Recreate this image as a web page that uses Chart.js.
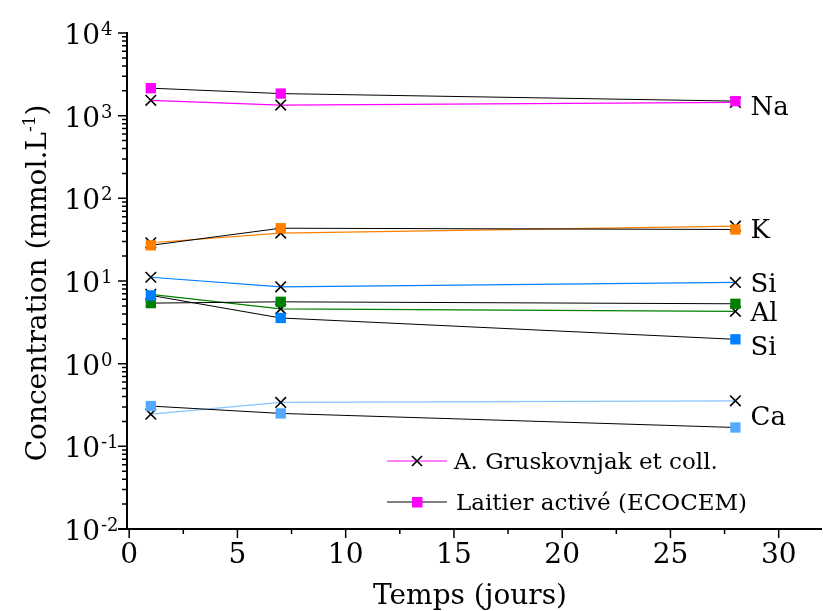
<!DOCTYPE html>
<html>
<head>
<meta charset="utf-8">
<script src="https://cdn.jsdelivr.net/npm/chart.js@4.4.0/dist/chart.umd.min.js"></script>
<style>
  html, body { margin: 0; padding: 0; background: #fff; }
  #wrap { width: 823px; height: 611px; }
</style>
</head>
<body>
<div id="wrap"><canvas id="chart"></canvas></div>
<script>
// time points (days)
const days = [1, 7, 28];

// A. Gruskovnjak et coll. (x markers, coloured lines)
const grusNa = [1535, 1345, 1445];
const grusK = [29, 38, 46];
const grusSi = [11.1, 8.5, 9.6];
const grusAl = [6.9, 4.6, 4.3];
const grusCa = [0.245, 0.34, 0.355];

// Laitier activé (ECOCEM) (coloured squares, black lines)
const ecoNa = [2150, 1850, 1500];
const ecoK = [27, 43.5, 42];
const ecoSi = [6.7, 3.57, 1.97];
const ecoAl = [5.4, 5.6, 5.3];
const ecoCa = [0.307, 0.25, 0.169];

// ion labels at right of the curves
const ionLabels = ['Na', 'K', 'Si', 'Al', 'Si', 'Ca'];
const ionLabelValues = [1340, 43.6, 9.67, 4.22, 1.67, 0.237];

const xTickValues = [0, 5, 10, 15, 20, 25, 30];
const xMinorValues = [2.5, 7.5, 12.5, 17.5, 22.5, 27.5];
const yExponents = [-2, -1, 0, 1, 2, 3, 4];

const legendLabels = ['A. Gruskovnjak et coll.', 'Laitier activé (ECOCEM)'];

const FONT = "'DejaVu Serif', serif";

const pts = vals => vals.map((v, i) => ({ x: days[i], y: v }));

const ecoSet = (vals, color) => ({
    data: pts(vals),
    borderColor: '#000',
    borderWidth: 1,
    pointStyle: 'rect',
    pointRadius: 7.3,
    pointBackgroundColor: color,
    pointBorderColor: color,
    pointBorderWidth: 0,
    tension: 0
});
const grusSet = (vals, color) => ({
    data: pts(vals),
    borderColor: color,
    borderWidth: 1.2,
    pointStyle: 'crossRot',
    pointRadius: 7.5,
    pointBorderColor: '#000',
    pointBorderWidth: 1.6,
    tension: 0
});

const decor = {
    id: 'decor',
    afterDraw(chart) {
        const { ctx, chartArea: a, scales: { x, y } } = chart;
        ctx.save();
        // axes
        ctx.strokeStyle = '#000';
        ctx.lineWidth = 2;
        ctx.beginPath();
        ctx.moveTo(a.left, a.top - 1);
        ctx.lineTo(a.left, a.bottom);
        ctx.moveTo(a.left - 9, a.bottom);
        ctx.lineTo(a.right, a.bottom);
        ctx.stroke();

        // y ticks
        ctx.lineWidth = 1.5;
        ctx.beginPath();
        yExponents.forEach((e, i) => {
            const py = y.getPixelForValue(Math.pow(10, e));
            ctx.moveTo(a.left - 9, py);
            ctx.lineTo(a.left, py);
            if (i < yExponents.length - 1) {
                for (let k = 2; k <= 9; k++) {
                    const pm = y.getPixelForValue(k * Math.pow(10, e));
                    ctx.moveTo(a.left - 5, pm);
                    ctx.lineTo(a.left, pm);
                }
            }
        });
        // x ticks
        xTickValues.forEach(v => {
            const px = x.getPixelForValue(v);
            ctx.moveTo(px, a.bottom);
            ctx.lineTo(px, a.bottom + 9);
        });
        xMinorValues.forEach(v => {
            const px = x.getPixelForValue(v);
            ctx.moveTo(px, a.bottom);
            ctx.lineTo(px, a.bottom + 5);
        });
        ctx.stroke();

        ctx.fillStyle = '#000';
        ctx.textBaseline = 'alphabetic';

        // y tick labels 10^n
        yExponents.forEach(e => {
            const py = y.getPixelForValue(Math.pow(10, e));
            ctx.font = '28px ' + FONT;
            ctx.textAlign = 'right';
            ctx.fillText('10', a.left - 27, py + 11);
            ctx.font = '18px ' + FONT;
            ctx.textAlign = 'left';
            ctx.fillText(String(e), a.left - 26, py + 2);
        });

        // y title with superscript
        ctx.save();
        ctx.translate(46, (a.top + a.bottom) / 2 + 2);
        ctx.rotate(-Math.PI / 2);
        const p1 = 'Concentration (mmol.L', p2 = '-1', p3 = ')';
        ctx.font = '28px ' + FONT;
        const w1 = ctx.measureText(p1).width, w3 = ctx.measureText(p3).width;
        ctx.font = '17px ' + FONT;
        const w2 = ctx.measureText(p2).width;
        let sx = -(w1 + w2 + w3) / 2;
        ctx.textAlign = 'left';
        ctx.font = '28px ' + FONT;
        ctx.fillText(p1, sx, 0);
        ctx.font = '17px ' + FONT;
        ctx.fillText(p2, sx + w1, -11);
        ctx.font = '28px ' + FONT;
        ctx.fillText(p3, sx + w1 + w2, 0);
        ctx.restore();

        // x title
        ctx.font = '28px ' + FONT;
        ctx.textAlign = 'center';
        ctx.fillText('Temps (jours)', 470, 604);

        // ion labels
        ctx.font = '26px ' + FONT;
        ctx.textAlign = 'left';
        ionLabels.forEach((t, i) => {
            const px = x.getPixelForValue(28.7);
            const py = y.getPixelForValue(ionLabelValues[i]);
            ctx.fillText(t, px, py + 9.5);
        });

        // legend
        const lx = 387, rows = [461, 502];
        ctx.lineWidth = 1.2;
        ctx.strokeStyle = '#ff00ff';
        ctx.beginPath();
        ctx.moveTo(lx, rows[0]); ctx.lineTo(lx + 60, rows[0]);
        ctx.stroke();
        ctx.strokeStyle = '#000';
        ctx.lineWidth = 1.6;
        ctx.beginPath();
        ctx.moveTo(lx + 30 - 5, rows[0] - 5); ctx.lineTo(lx + 30 + 5, rows[0] + 5);
        ctx.moveTo(lx + 30 - 5, rows[0] + 5); ctx.lineTo(lx + 30 + 5, rows[0] - 5);
        ctx.stroke();
        ctx.lineWidth = 1;
        ctx.beginPath();
        ctx.moveTo(lx, rows[1]); ctx.lineTo(lx + 60, rows[1]);
        ctx.stroke();
        ctx.fillStyle = '#ff00ff';
        ctx.fillRect(lx + 25, rows[1] - 5, 10.5, 10.5);
        ctx.fillStyle = '#000';
        ctx.font = '23px ' + FONT;
        ctx.fillText(legendLabels[0], lx + 67, rows[0] + 8);
        ctx.fillText(legendLabels[1], lx + 69, rows[1] + 8);
        ctx.restore();
    }
};

new Chart(document.getElementById('chart').getContext('2d'), {
    type: 'line',
    data: {
        datasets: [
            ecoSet(ecoNa, '#ff00ff'),
            ecoSet(ecoK, '#ff8000'),
            ecoSet(ecoSi, '#0080ff'),
            ecoSet(ecoAl, '#008000'),
            ecoSet(ecoCa, '#55aaff'),
            grusSet(grusNa, '#ff00ff'),
            grusSet(grusK, '#ff8000'),
            grusSet(grusSi, '#0080ff'),
            grusSet(grusAl, '#008000'),
            grusSet(grusCa, '#88c4ff')
        ]
    },
    options: {
        responsive: true,
        maintainAspectRatio: false,
        animation: false,
        devicePixelRatio: 1,
        layout: { autoPadding: false, padding: { top: 33, right: 1, left: 0, bottom: 0 } },
        plugins: {
            legend: { display: false },
            tooltip: { enabled: false },
            title: { display: false }
        },
        scales: {
            x: {
                type: 'linear',
                min: -0.1,
                max: 32,
                border: { display: false },
                grid: { display: false, drawTicks: false },
                afterBuildTicks: s => { s.ticks = xTickValues.map(v => ({ value: v })); },
                afterFit: s => { s.height = 82; s.paddingLeft = 0; s.paddingRight = 0; },
                ticks: {
                    padding: 10,
                    maxRotation: 0,
                    color: '#000',
                    font: { family: FONT, size: 28 }
                }
            },
            y: {
                type: 'logarithmic',
                min: 0.01,
                max: 10000,
                border: { display: false },
                grid: { display: false, drawTicks: false },
                afterBuildTicks: s => { s.ticks = yExponents.map(e => ({ value: Math.pow(10, e) })); },
                afterFit: s => { s.width = 127; s.paddingTop = 0; s.paddingBottom = 0; },
                ticks: { display: false }
            }
        }
    },
    plugins: [decor]
});
</script>
</body>
</html>
